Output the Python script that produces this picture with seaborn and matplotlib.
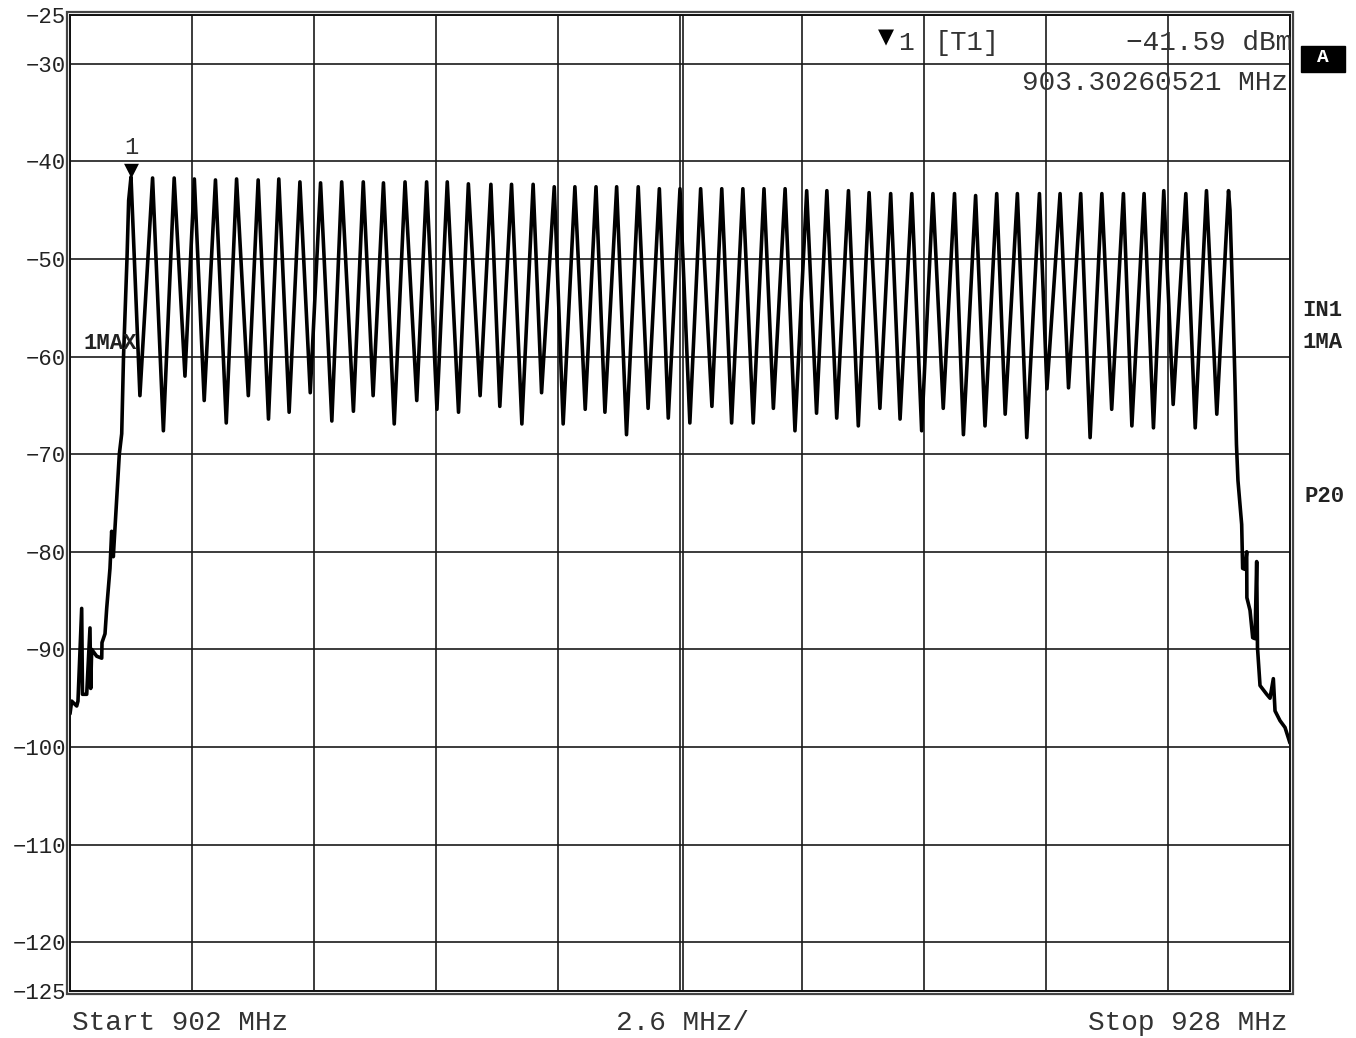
import numpy as np
import pandas as pd
import matplotlib
matplotlib.use("Agg")
import matplotlib.pyplot as plt
import seaborn as sns
from matplotlib.patches import Rectangle

# ---------------- data ----------------
# channel peaks (MHz, dBm)
peak_freq = [903.30, 903.76, 904.22, 904.65, 905.10, 905.55, 906.01, 906.45, 906.90, 907.34,
             907.79, 908.25, 908.68, 909.14, 909.60, 910.04, 910.49, 910.97, 911.41, 911.87,
             912.32, 912.76, 913.21, 913.65, 914.11, 914.56, 915.00, 915.44, 915.89, 916.34,
             916.79, 917.24, 917.70, 918.13, 918.59, 919.03, 919.49, 919.94, 920.39, 920.85,
             921.30, 921.75, 922.19, 922.66, 923.10, 923.54, 923.99, 924.45, 924.89, 925.31,
             925.78, 926.22, 926.69]
peak_level = [-41.59, -41.7, -41.7, -41.8, -41.9, -41.8, -41.9, -41.8, -42.1, -42.2,
              -42.1, -42.1, -42.2, -42.1, -42.1, -42.1, -42.3, -42.35, -42.35, -42.35,
              -42.6, -42.6, -42.6, -42.6, -42.6, -42.8, -42.8, -42.8, -42.8, -42.8,
              -42.8, -42.8, -43.0, -43.0, -43.0, -43.2, -43.3, -43.3, -43.3, -43.3,
              -43.5, -43.3, -43.3, -43.3, -43.3, -43.3, -43.3, -43.3, -43.3, -43.0,
              -43.3, -43.0, -43.0]
# valleys between channels
valley_freq = [903.49, 903.99, 904.45, 904.86, 905.33, 905.80, 906.23, 906.67, 907.12, 907.58,
               908.04, 908.46, 908.91, 909.39, 909.82, 910.28, 910.74, 911.16, 911.63, 912.05,
               912.51, 912.98, 913.40, 913.86, 914.32, 914.75, 915.21, 915.68, 916.10, 916.56,
               916.99, 917.45, 917.91, 918.34, 918.80, 919.26, 919.69, 920.15, 920.61, 921.04,
               921.50, 921.93, 922.39, 922.82, 923.28, 923.74, 924.20, 924.63, 925.09, 925.51,
               925.98, 926.44]
valley_level = [-64.0, -67.6, -62.0, -64.5, -66.8, -64.0, -66.4, -65.7, -63.7, -66.6,
                -65.6, -64.0, -66.9, -64.5, -65.4, -65.7, -64.0, -65.1, -66.9, -63.7,
                -66.9, -65.4, -65.7, -68.0, -65.3, -66.3, -66.8, -65.1, -66.8, -66.8,
                -65.3, -67.6, -65.8, -66.3, -67.1, -65.3, -66.4, -67.6, -65.3, -68.0,
                -67.1, -65.9, -68.3, -63.3, -63.2, -68.3, -65.4, -67.1, -67.3, -64.9,
                -67.3, -65.9]
# lower band edge
left_freq = [902.000, 902.036, 902.143, 902.170, 902.213, 902.249, 902.266, 902.356, 902.394,
             902.426, 902.441, 902.462, 902.569, 902.676, 902.682, 902.746, 902.782, 902.852,
             902.888, 902.923, 902.995, 903.051, 903.102, 903.140, 903.215, 903.250]
left_level = [-96.6, -95.3, -95.8, -95.3, -90.0, -85.8, -94.6, -94.6, -91.0,
              -87.8, -94.0, -90.0, -90.7, -90.9, -89.3, -88.4, -85.8, -81.7,
              -77.9, -80.5, -74.5, -70.0, -67.9, -60.1, -49.9, -44.0]
# upper band edge
right_freq = [926.721, 926.785, 926.827, 926.859, 926.891, 926.970, 926.991, 927.041, 927.077,
              927.081, 927.148, 927.205, 927.254, 927.290, 927.307, 927.361, 927.504, 927.574,
              927.645, 927.681, 927.787, 927.894, 928.000]
right_level = [-45.0, -55.0, -62.5, -69.0, -72.7, -77.2, -81.7, -81.8, -80.0,
               -84.7, -86.0, -88.8, -88.9, -81.0, -89.8, -93.7, -94.6, -95.0,
               -93.0, -96.3, -97.3, -98.0, -99.6]

y_ticks = [-25, -30, -40, -50, -60, -70, -80, -90, -100, -110, -120, -125]
x_grid = [902.0, 904.6, 907.2, 909.8, 912.4, 915.0, 917.6, 920.2, 922.8, 925.4, 928.0]

marker_freq = 903.30260521
marker_level = -41.59

# ---------------- build trace table ----------------
f_all, l_all = list(left_freq), list(left_level)
for i in range(len(peak_freq)):
    f_all.append(peak_freq[i]); l_all.append(peak_level[i])
    if i < len(valley_freq):
        f_all.append(valley_freq[i]); l_all.append(valley_level[i])
f_all += right_freq
l_all += right_level
df = pd.DataFrame({"freq": f_all, "level": l_all})

# ---------------- figure ----------------
sns.set_theme(style="white")
plt.rcParams["font.family"] = ["Liberation Mono", "DejaVu Sans"]
plt.rcParams["axes.unicode_minus"] = True

W, H = 1356, 1038
fig = plt.figure(figsize=(W / 100, H / 100), dpi=100)
fig.patch.set_facecolor("white")
L, R, T, B = 70, 1290, 15, 991
ax = fig.add_axes([L / W, 1 - B / H, (R - L) / W, (B - T) / H])
ax.set_facecolor("white")

sns.lineplot(data=df, x="freq", y="level", ax=ax, color="black", linewidth=2.6,
             sort=True, estimator=None, legend=False)

ax.set_xlim(902, 928)
ax.set_ylim(-125, -25)
ax.set_xticks(x_grid)
ax.set_xticklabels([])
ax.set_yticks(y_ticks)
ax.set_yticklabels([str(v).replace("-", "\u2212") for v in y_ticks],
                   fontsize=16, color="#222222")
ax.tick_params(axis="both", length=0, pad=3)
ax.grid(True, color="#1a1a1a", linewidth=1.2)
ax.set_axisbelow(True)
ax.set_xlabel("")
ax.set_ylabel("")
# doubled centre grid line
ax.axvline(915.0 + 0.065, color="#1a1a1a", linewidth=1.2, zorder=0.5)

for s in ax.spines.values():
    s.set_visible(True)
    s.set_color("#111111")
    s.set_linewidth(1.4)

# outer frame line (double border)
fig.add_artist(Rectangle(((L - 3) / W, 1 - (B + 3) / H), (R - L + 6) / W, (B - T + 6) / H,
                         transform=fig.transFigure, fill=False, edgecolor="#444444",
                         linewidth=1.6))

# marker on trace
ax.text(marker_freq, marker_level - 0.3, "\u25BC", fontsize=14, ha="center", va="bottom",
        family="DejaVu Sans", color="black")
ax.text(marker_freq, -38.6, "1", fontsize=17, ha="center", va="center", color="#333333")
ax.text(902.28, -58.7, "1MAX", fontsize=16, fontweight="bold", ha="left", va="center",
        color="#222222")

# marker readout
fig.text(886 / W, 1 - 37 / H, "\u25BC", fontsize=15, ha="center", va="center",
         family="DejaVu Sans", color="black")
fig.text(898 / W, 1 - 43 / H, "1", fontsize=19, ha="left", va="center", color="#333333")
fig.text(935 / W, 1 - 43 / H, "[T1]", fontsize=19.5, ha="left", va="center", color="#333333")
fig.text(1292 / W, 1 - 43 / H, "\u221241.59 dBm", fontsize=20, ha="right", va="center",
         color="#333333")
fig.text(1288 / W, 1 - 83 / H, "903.30260521 MHz", fontsize=20, ha="right", va="center",
         color="#333333")

# side labels
fig.add_artist(Rectangle((1301 / W, 1 - 72 / H), 44 / W, 26 / H, transform=fig.transFigure,
                         facecolor="black", edgecolor="black"))
fig.text(1323 / W, 1 - 58 / H, "A", fontsize=14, fontweight="bold", ha="center", va="center",
         color="white")
fig.text(1302 / W, 1 - 310 / H, "IN1", fontsize=16, fontweight="bold", ha="left",
         va="center", color="#222222")
fig.text(1302 / W, 1 - 342 / H, "1MA", fontsize=16, fontweight="bold", ha="left",
         va="center", color="#222222")
fig.text(1304 / W, 1 - 496 / H, "P20", fontsize=16, fontweight="bold", ha="left",
         va="center", color="#222222")

# bottom annotations
fig.text(72 / W, 1 - 1023 / H, "Start 902 MHz", fontsize=20, ha="left", va="center",
         color="#333333")
fig.text(682 / W, 1 - 1023 / H, "2.6 MHz/", fontsize=20, ha="center", va="center",
         color="#333333")
fig.text(1288 / W, 1 - 1023 / H, "Stop 928 MHz", fontsize=20, ha="right", va="center",
         color="#333333")

fig.savefig("out.png", dpi=100, facecolor="white")
